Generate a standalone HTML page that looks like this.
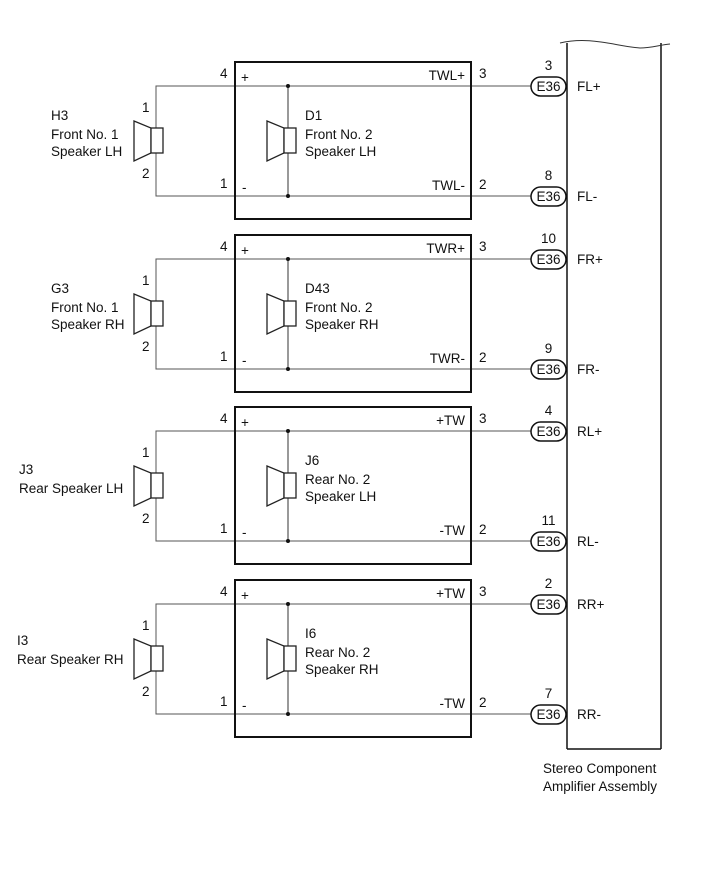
<!DOCTYPE html>
<html><head><meta charset="utf-8"><style>
html,body{margin:0;padding:0;background:#fff;}
svg{display:block;}
text{font-family:"Liberation Sans",Arial,sans-serif;font-size:13.5px;fill:#111;}
</style></head><body>
<svg width="713" height="882" viewBox="0 0 713 882" xmlns="http://www.w3.org/2000/svg">
<defs>
<g id="blk">
  <path d="M531,86 H156 V196 H531" fill="none" stroke="#555" stroke-width="1"/>
  <line x1="288" y1="86" x2="288" y2="196" stroke="#333" stroke-width="1"/>
  <circle cx="288" cy="86" r="2" fill="#111"/>
  <circle cx="288" cy="196" r="2" fill="#111"/>
  <rect x="235" y="62" width="236" height="157" fill="none" stroke="#111" stroke-width="2"/>
  <polygon points="134,121 151,128 151,153 134,161" fill="#fff" stroke="#222" stroke-width="1.3"/>
  <rect x="151" y="128" width="12" height="25" fill="#fff" stroke="#222" stroke-width="1.3"/>
  <polygon points="267,121 284,128 284,153 267,161" fill="#fff" stroke="#222" stroke-width="1.3"/>
  <rect x="284" y="128" width="12" height="25" fill="#fff" stroke="#222" stroke-width="1.3"/>
  <rect x="531" y="77" width="35" height="19" rx="9.5" fill="#fff" stroke="#111" stroke-width="1.5"/>
  <text x="548.5" y="91" text-anchor="middle">E36</text>
  <rect x="531" y="187" width="35" height="19" rx="9.5" fill="#fff" stroke="#111" stroke-width="1.5"/>
  <text x="548.5" y="201" text-anchor="middle">E36</text>
  <text x="220" y="78">4</text>
  <text x="241" y="82">+</text>
  <text x="220" y="188">1</text>
  <text x="242" y="192">-</text>
  <text x="479" y="78">3</text>
  <text x="479" y="189">2</text>
  <text x="142" y="112">1</text>
  <text x="142" y="178">2</text>
</g>
</defs>
<g><use href="#blk"/></g>
<g transform="translate(0,173)"><use href="#blk"/></g>
<g transform="translate(0,345)"><use href="#blk"/></g>
<g transform="translate(0,518)"><use href="#blk"/></g>

<path d="M567,749 V43 M661,43 V749 M567,749 H661" fill="none" stroke="#111" stroke-width="1.5"/>
<path d="M560,43 C590,36 615,46 640,48 C650,48 660,45 670,44" fill="none" stroke="#333" stroke-width="1"/>
<text x="543" y="773">Stereo Component</text>
<text x="543" y="791">Amplifier Assembly</text>

<text x="465" y="80" text-anchor="end">TWL+</text>
<text x="465" y="190" text-anchor="end">TWL-</text>
<text x="548.5" y="70" text-anchor="middle">3</text>
<text x="548.5" y="180" text-anchor="middle">8</text>
<text x="577" y="91">FL+</text>
<text x="577" y="201">FL-</text>
<text x="51" y="120">H3</text>
<text x="51" y="139">Front No. 1</text>
<text x="51" y="156">Speaker LH</text>
<text x="305" y="120">D1</text>
<text x="305" y="139">Front No. 2</text>
<text x="305" y="156">Speaker LH</text>

<text x="465" y="253" text-anchor="end">TWR+</text>
<text x="465" y="363" text-anchor="end">TWR-</text>
<text x="548.5" y="243" text-anchor="middle">10</text>
<text x="548.5" y="353" text-anchor="middle">9</text>
<text x="577" y="264">FR+</text>
<text x="577" y="374">FR-</text>
<text x="51" y="293">G3</text>
<text x="51" y="312">Front No. 1</text>
<text x="51" y="329">Speaker RH</text>
<text x="305" y="293">D43</text>
<text x="305" y="312">Front No. 2</text>
<text x="305" y="329">Speaker RH</text>

<text x="465" y="425" text-anchor="end">+TW</text>
<text x="465" y="535" text-anchor="end">-TW</text>
<text x="548.5" y="415" text-anchor="middle">4</text>
<text x="548.5" y="525" text-anchor="middle">11</text>
<text x="577" y="436">RL+</text>
<text x="577" y="546">RL-</text>
<text x="19" y="474">J3</text>
<text x="19" y="493">Rear Speaker LH</text>
<text x="305" y="465">J6</text>
<text x="305" y="484">Rear No. 2</text>
<text x="305" y="501">Speaker LH</text>

<text x="465" y="598" text-anchor="end">+TW</text>
<text x="465" y="708" text-anchor="end">-TW</text>
<text x="548.5" y="588" text-anchor="middle">2</text>
<text x="548.5" y="698" text-anchor="middle">7</text>
<text x="577" y="609">RR+</text>
<text x="577" y="719">RR-</text>
<text x="17" y="645">I3</text>
<text x="17" y="664">Rear Speaker RH</text>
<text x="305" y="638">I6</text>
<text x="305" y="657">Rear No. 2</text>
<text x="305" y="674">Speaker RH</text>
</svg>
</body></html>
